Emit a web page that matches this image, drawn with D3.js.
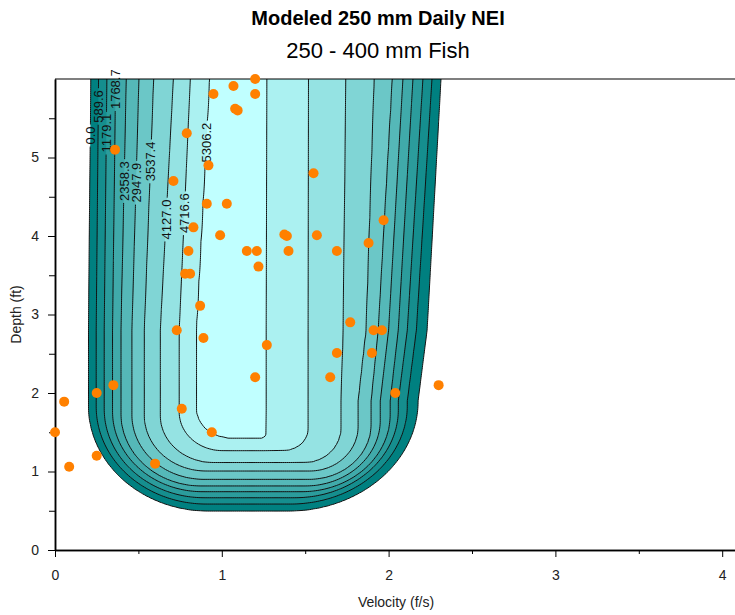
<!DOCTYPE html>
<html lang="en">
<head>
<meta charset="UTF-8">
<title>Modeled 250 mm Daily NEI</title>
<script src="https://d3js.org/d3.v7.min.js"></script>
<style>
    body {
        margin: 0;
        background: #fff;
    }
    svg {
        display: block;
        font-family: "Liberation Sans", Arial, sans-serif;
    }
    .axis path, .axis line {
        stroke: #000;
    }
    .axis path {
        stroke-width: 1.5px;
    }
    .axis text {
        font-size: 14px;
        fill: #222;
    }
    .isoline {
        fill: none;
        stroke: #111;
        stroke-width: 1px;
    }
    .clabel {
        font-size: 13px;
        fill: #111;
    }
    .fish {
        fill: #ff8000;
    }
</style>
</head>
<body>
<script>
    // contour levels of modeled NEI
    const levels = [0.0, 589.6, 1179.1, 1768.7, 2358.3, 2947.9, 3537.4, 4127.0, 4716.6, 5306.2];
    // depths (ft) where the contour edges were read
    const edgeDepths = [1.9, 2.8, 6.0];
    // velocity of each level's left edge at edgeDepths
    const leftEdge = [
        [0.201, 0.201, 0.215],
        [0.247, 0.247, 0.261],
        [0.295, 0.295, 0.311],
        [0.345, 0.345, 0.363],
        [0.395, 0.395, 0.427],
        [0.461, 0.461, 0.503],
        [0.535, 0.535, 0.591],
        [0.631, 0.631, 0.710],
        [0.745, 0.745, 0.811],
        [0.847, 0.847, 0.926]
    ];
    // velocity of each level's right edge at edgeDepths
    const rightEdge = [
        [2.177, 2.231, 2.314],
        [2.112, 2.166, 2.260],
        [2.058, 2.112, 2.206],
        [2.010, 2.058, 2.146],
        [1.950, 2.000, 2.086],
        [1.896, 1.938, 2.023],
        [1.818, 1.866, 1.914],
        [1.716, 1.728, 1.744],
        [1.518, 1.518, 1.520],
        [1.266, 1.266, 1.270]
    ];
    // lowest depth of each level
    const bottomDepth = [0.497, 0.586, 0.666, 0.743, 0.815, 0.900, 1.006, 1.112, 1.265, 1.423];
    // rounding of the lower corners (velocity span, depth span)
    const cornerLeftV = [0.72, 0.66, 0.60, 0.54, 0.48, 0.43, 0.37, 0.32, 0.26, 0.21];
    const cornerLeftD = [1.34, 1.24, 1.13, 1.02, 0.92, 0.82, 0.71, 0.60, 0.49, 0.38];
    const cornerRightV = [0.78, 0.70, 0.62, 0.53, 0.45, 0.37, 0.29, 0.22, 0.15, 0.03];
    const cornerRightD = [1.40, 1.26, 1.12, 0.98, 0.84, 0.70, 0.57, 0.45, 0.28, 0.06];
    // depth of each contour label
    const labelDepth = [5.28, 5.65, 5.31, 5.87, 4.70, 4.68, 4.95, 4.21, 4.29, 5.19];

    // observed fish
    const fishVelocity = [1.20, 1.07, 0.95, 1.20, 1.08, 1.095, 0.79, 0.36, 0.92, 0.71,
        1.55, 0.91, 1.03, 0.83, 0.99, 1.375, 1.39, 1.57, 1.97, 1.88,
        0.80, 1.15, 1.21, 1.40, 1.69, 1.22, 0.78, 0.81, 0.87, 1.77,
        0.73, 1.91, 1.96, 0.89, 1.27, 1.69, 1.90, 1.20, 1.65, 2.30,
        0.35, 0.25, 2.04, 0.055, 0.76, 0.94, 0.00, 0.25, 0.085, 0.60];
    const fishDepth = [6.00, 5.91, 5.81, 5.81, 5.62, 5.60, 5.31, 5.10, 4.90, 4.70,
        4.80, 4.41, 4.41, 4.11, 4.01, 4.02, 4.00, 4.01, 4.20, 3.91,
        3.81, 3.81, 3.81, 3.81, 3.81, 3.61, 3.52, 3.52, 3.11, 2.90,
        2.80, 2.80, 2.80, 2.70, 2.61, 2.51, 2.51, 2.20, 2.20, 2.10,
        2.10, 2.00, 2.00, 1.89, 1.80, 1.50, 1.50, 1.20, 1.06, 1.10];

    const xTicks = [0, 1, 2, 3, 4];
    const xMinor = [0.5, 1.5, 2.5, 3.5, 4.5];
    const yTicks = [0, 1, 2, 3, 4, 5];
    const yMinor = [0.5, 1.5, 2.5, 3.5, 4.5, 5.5];

    const width = 735;
    const height = 615;

    const svg = d3.select("body").append("svg")
        .attr("width", width)
        .attr("height", height);

    const x = d3.scaleLinear().domain([0, 4.5]).range([55, 55 + 4.5 * 166.8]);
    const y = d3.scaleLinear().domain([0, 6]).range([550, 79]);

    const leftAt = leftEdge.map(r => d3.scaleLinear().domain(edgeDepths).range(r).clamp(true));
    const rightAt = rightEdge.map(r => d3.scaleLinear().domain(edgeDepths).range(r).clamp(true));

    // pixel distance inside a rounded corner
    function corner(u, w, a, b) {
        const h = Math.hypot(u, w);
        const s = u + w > 0 ? (a * u + b * w) / (u + w) : Math.min(a, b);
        return (1 - h) * s;
    }
    // how far (px) a point sits inside level k's outline
    function inside(k, v, d) {
        const px = x(v), py = y(d);
        const lx = x(leftAt[k](d)), rx = x(rightAt[k](d)), by = y(bottomDepth[k]);
        const aL = x(cornerLeftV[k]) - x(0), bL = y(0) - y(cornerLeftD[k]);
        const aR = x(cornerRightV[k]) - x(0), bR = y(0) - y(cornerRightD[k]);
        if (py > by - bL && px < lx + aL) return corner((lx + aL - px) / aL, (py - by + bL) / bL, aL, bL);
        if (py > by - bR && px > rx - aR) return corner((px - rx + aR) / aR, (py - by + bR) / bR, aR, bR);
        return Math.min(px - lx, rx - px, by - py);
    }
    const step = levels[1] - levels[0];
    function nei(v, d) {
        const s = levels.map((_, k) => inside(k, v, d));
        if (s[0] < 0) return step * s[0] / 10;
        let k = 0;
        while (k < levels.length - 1 && s[k + 1] >= 0) k++;
        if (k === levels.length - 1) return levels[k] + step * Math.min(0.95, s[k] / 40);
        return levels[k] + step * s[k] / (s[k] - s[k + 1]);
    }

    // grid for the contour generator
    const dv = 0.0125, dd = 0.025;
    const nx = Math.round(2.5 / dv) + 1;
    const ny = Math.round(6.25 / dd) + 1;
    const grid = new Array(nx * ny);
    for (let j = 0; j < ny; j++) {
        for (let i = 0; i < nx; i++) {
            grid[i + j * nx] = nei(i * dv, j * dd);
        }
    }
    const bands = d3.contours().size([nx, ny]).thresholds(levels)(grid);
    const toChart = d3.geoTransform({
        point(gx, gy) {
            this.stream.point(x((gx - 0.5) * dv), y((gy - 0.5) * dd));
        }
    });
    const path = d3.geoPath(toChart);
    const color = d3.interpolateRgb("#008080", "#c0ffff");

    const defs = svg.append("defs");
    defs.append("clipPath").attr("id", "plotArea")
        .append("rect")
        .attr("x", x(0)).attr("y", y(6))
        .attr("width", width - x(0)).attr("height", y(0) - y(6));
    const mask = defs.append("mask").attr("id", "labelGaps")
        .attr("maskUnits", "userSpaceOnUse")
        .attr("x", 0).attr("y", 0).attr("width", width).attr("height", height);
    mask.append("rect").attr("width", width).attr("height", height).attr("fill", "#fff");

    const plot = svg.append("g").attr("clip-path", "url(#plotArea)");
    plot.append("g")
        .selectAll("path")
        .data(bands)
        .join("path")
        .attr("d", path)
        .attr("fill", (d, i) => color(i / (levels.length - 1)));
    plot.append("g")
        .attr("mask", "url(#labelGaps)")
        .selectAll("path")
        .data(bands)
        .join("path")
        .attr("class", "isoline")
        .attr("d", path);

    // contour labels, sitting on the left edges
    const labels = svg.append("g")
        .selectAll("g")
        .data(levels.map((lv, k) => ({ k: k, text: lv.toFixed(1), depth: labelDepth[k] })))
        .join("g")
        .attr("transform", d => `translate(${x(leftAt[d.k](d.depth))},${y(d.depth)}) rotate(-90)`);
    labels.append("text")
        .attr("class", "clabel")
        .attr("text-anchor", "middle")
        .attr("dy", "0.35em")
        .text(d => d.text);
    labels.each(function(d) {
        const len = d3.select(this).select("text").node().getComputedTextLength();
        mask.append("rect")
            .attr("transform", d3.select(this).attr("transform"))
            .attr("x", -len / 2 - 2).attr("y", -6)
            .attr("width", len + 4).attr("height", 12)
            .attr("fill", "#000");
    });

    // axes
    svg.append("g").attr("class", "axis")
        .attr("transform", `translate(0,${y(0)})`)
        .call(d3.axisBottom(x).tickValues(xMinor).tickSize(4).tickFormat("").tickSizeOuter(0));
    svg.append("g").attr("class", "axis")
        .attr("transform", `translate(0,${y(0)})`)
        .call(d3.axisBottom(x).tickValues(xTicks).tickSize(7).tickPadding(13).tickSizeOuter(0)
            .tickFormat(d3.format("d")));
    svg.append("g").attr("class", "axis")
        .attr("transform", `translate(${x(0)},0)`)
        .call(d3.axisLeft(y).tickValues(yMinor).tickSize(6).tickFormat("").tickSizeOuter(0));
    svg.append("g").attr("class", "axis")
        .attr("transform", `translate(${x(0)},0)`)
        .call(d3.axisLeft(y).tickValues(yTicks).tickSize(7).tickPadding(9).tickSizeOuter(0)
            .tickFormat(d3.format("d")));
    svg.append("line")
        .attr("x1", x(0)).attr("x2", width)
        .attr("y1", y(6)).attr("y2", y(6))
        .attr("stroke", "#000").attr("stroke-width", 1.2);

    // fish observations
    svg.append("g")
        .selectAll("circle")
        .data(fishVelocity.map((v, i) => [v, fishDepth[i]]))
        .join("circle")
        .attr("class", "fish")
        .attr("cx", d => x(d[0]))
        .attr("cy", d => y(d[1]))
        .attr("r", 5);

    // titles
    svg.append("text")
        .attr("x", 378).attr("y", 25)
        .attr("text-anchor", "middle")
        .style("font-size", "20px").style("font-weight", "bold")
        .text("Modeled 250 mm Daily NEI");
    svg.append("text")
        .attr("x", 378).attr("y", 58)
        .attr("text-anchor", "middle")
        .style("font-size", "22px")
        .text("250 - 400 mm Fish");
    svg.append("text")
        .attr("x", 396).attr("y", 607)
        .attr("text-anchor", "middle")
        .style("font-size", "14px").style("fill", "#222")
        .text("Velocity (f/s)");
    svg.append("text")
        .attr("transform", `translate(21,${(y(0) + y(6)) / 2}) rotate(-90)`)
        .attr("text-anchor", "middle")
        .style("font-size", "14px").style("fill", "#222")
        .text("Depth (ft)");
</script>
</body>
</html>
